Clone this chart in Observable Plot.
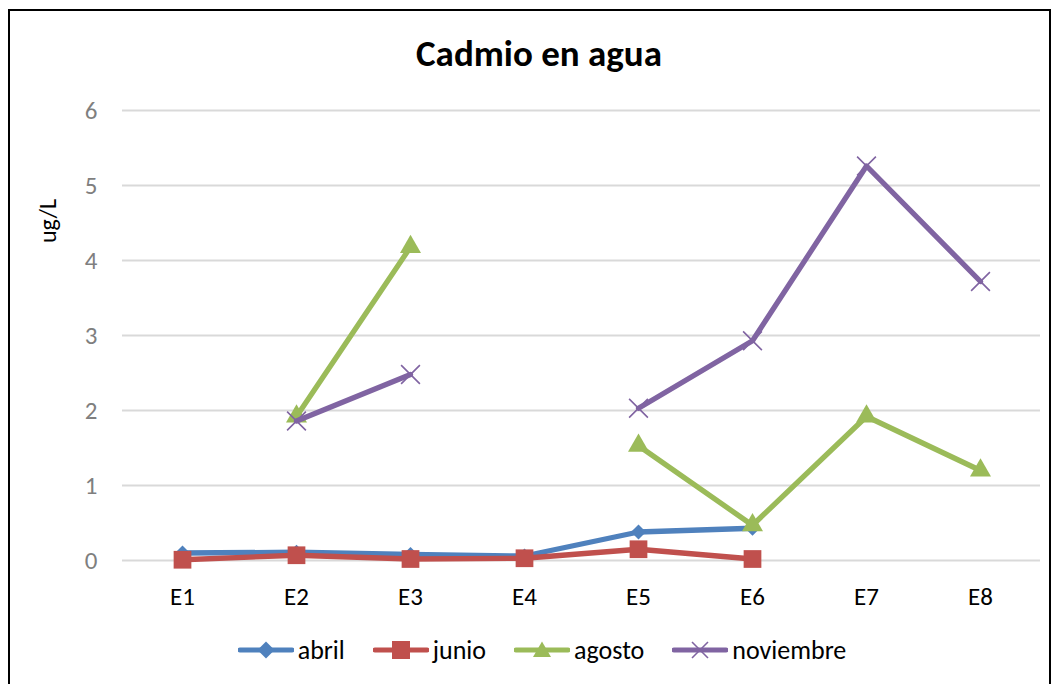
<!DOCTYPE html>
<html>
<head>
<meta charset="utf-8">
<script src="https://cdn.jsdelivr.net/npm/d3@7"></script>
<script src="https://cdn.jsdelivr.net/npm/@observablehq/plot@0.6"></script>
<style>
  html, body { margin:0; padding:0; background:#fff; width:1056px; height:684px; overflow:hidden; }
  body { font-family: Carlito, Lato, "Open Sans", sans-serif; position:relative; }
  #frame { position:absolute; left:8px; top:9px; width:1043px; height:700px; border:2px solid #000; box-sizing:border-box; }
  #title { position:absolute; left:289px; width:500px; top:30px; text-align:center; font-weight:bold; font-size:37px; line-height:48px; color:#000; }
  #ylabel { position:absolute; left:47px; top:221px; transform:translate(-50%,-50%) rotate(-90deg); font-size:24px; color:#000; white-space:nowrap; }
  #chart { position:absolute; left:0; top:80px; }
  #legend { position:absolute; left:0; width:1084px; top:634px; height:32px; display:flex; justify-content:center; align-items:center; gap:28px; font-size:26px; line-height:32px; color:#000; }
  .item { display:flex; align-items:center; gap:4px; }
</style>
</head>
<body>
<div id="frame"></div>
<div id="title">Cadmio en agua</div>
<div id="ylabel">ug/L</div>
<div id="chart"></div>
<div id="legend"></div>
<script>
const stations = ["E1", "E2", "E3", "E4", "E5", "E6", "E7", "E8"];
const abril     = [0.10, 0.11, 0.08, 0.06, 0.38, 0.43, null, null];
const junio     = [0.01, 0.07, 0.02, 0.03, 0.15, 0.02, null, null];
const agosto    = [null, 1.92, 4.18, null, 1.53, 0.47, 1.92, 1.20];
const noviembre = [null, 1.86, 2.48, null, 2.03, 2.93, 5.26, 3.72];
const yTicks = [0, 1, 2, 3, 4, 5, 6];

const seriesNames = ["abril", "junio", "agosto", "noviembre"];
const seriesValues = [abril, junio, agosto, noviembre];
const colors = ["#4F81BD", "#C0504D", "#9BBB59", "#8064A2"];
const symbols = ["diamond2", "square", "triangle", "times"];
const radii = [6.8, 10, 7.8, 8.6];

const tables = seriesValues.map(vals => stations.map((s, i) => ({station: s, value: vals[i]})));

const marks = [
  Plot.gridY(yTicks, {stroke: "#d9d9d9", strokeOpacity: 1, strokeWidth: 2}),
  Plot.axisY(yTicks, {tickSize: 0, tickPadding: 25, fill: "#7f7f7f", label: null, tickFormat: d => String(d)}),
  Plot.axisX({tickSize: 0, tickPadding: 27, fill: "#000", label: null})
];
tables.forEach((t, k) => {
  marks.push(Plot.line(t, {x: "station", y: "value", stroke: colors[k], strokeWidth: 5.3, strokeLinejoin: "round"}));
  if (symbols[k] === "times") {
    marks.push(Plot.dot(t, {x: "station", y: "value", symbol: "times", r: radii[k], stroke: colors[k], strokeWidth: 1.6, fill: "none"}));
  } else {
    marks.push(Plot.dot(t, {x: "station", y: "value", symbol: symbols[k], r: radii[k], fill: colors[k], stroke: "none"}));
  }
});

const chart = Plot.plot({
  width: 1056,
  height: 540,
  marginLeft: 122,
  marginRight: 16,
  marginTop: 30,
  marginBottom: 60,
  style: {fontFamily: "Carlito, Lato, 'Open Sans', sans-serif", fontSize: "25px", background: "transparent", overflow: "visible"},
  x: {type: "point", domain: stations, padding: 0.5},
  y: {domain: [0, 6]},
  marks
});
document.getElementById("chart").appendChild(chart);

// Legend
const legend = document.getElementById("legend");
const symPath = {
  diamond2: "M0,-8.5L8.5,0L0,8.5L-8.5,0Z",
  square: "M-9,-9H9V9H-9Z",
  triangle: "M0,-8.5L9,7H-9Z",
  times: "M-8,-8L8,8M-8,8L8,-8"
};
seriesNames.forEach((name, k) => {
  const item = document.createElement("div");
  item.className = "item";
  const svgNS = "http://www.w3.org/2000/svg";
  const sw = document.createElementNS(svgNS, "svg");
  sw.setAttribute("width", 56); sw.setAttribute("height", 22);
  sw.setAttribute("viewBox", "-28 -11 56 22");
  const ln = document.createElementNS(svgNS, "line");
  ln.setAttribute("x1", -26); ln.setAttribute("x2", 26); ln.setAttribute("y1", 0); ln.setAttribute("y2", 0);
  ln.setAttribute("stroke", colors[k]); ln.setAttribute("stroke-width", 5); ln.setAttribute("stroke-linecap", "round");
  sw.appendChild(ln);
  const p = document.createElementNS(svgNS, "path");
  p.setAttribute("d", symPath[symbols[k]]);
  if (symbols[k] === "times") { p.setAttribute("stroke", colors[k]); p.setAttribute("stroke-width", 1.6); p.setAttribute("fill", "none"); }
  else { p.setAttribute("fill", colors[k]); }
  sw.appendChild(p);
  item.appendChild(sw);
  const tx = document.createElement("span");
  tx.textContent = name;
  item.appendChild(tx);
  legend.appendChild(item);
});
</script>
</body>
</html>
